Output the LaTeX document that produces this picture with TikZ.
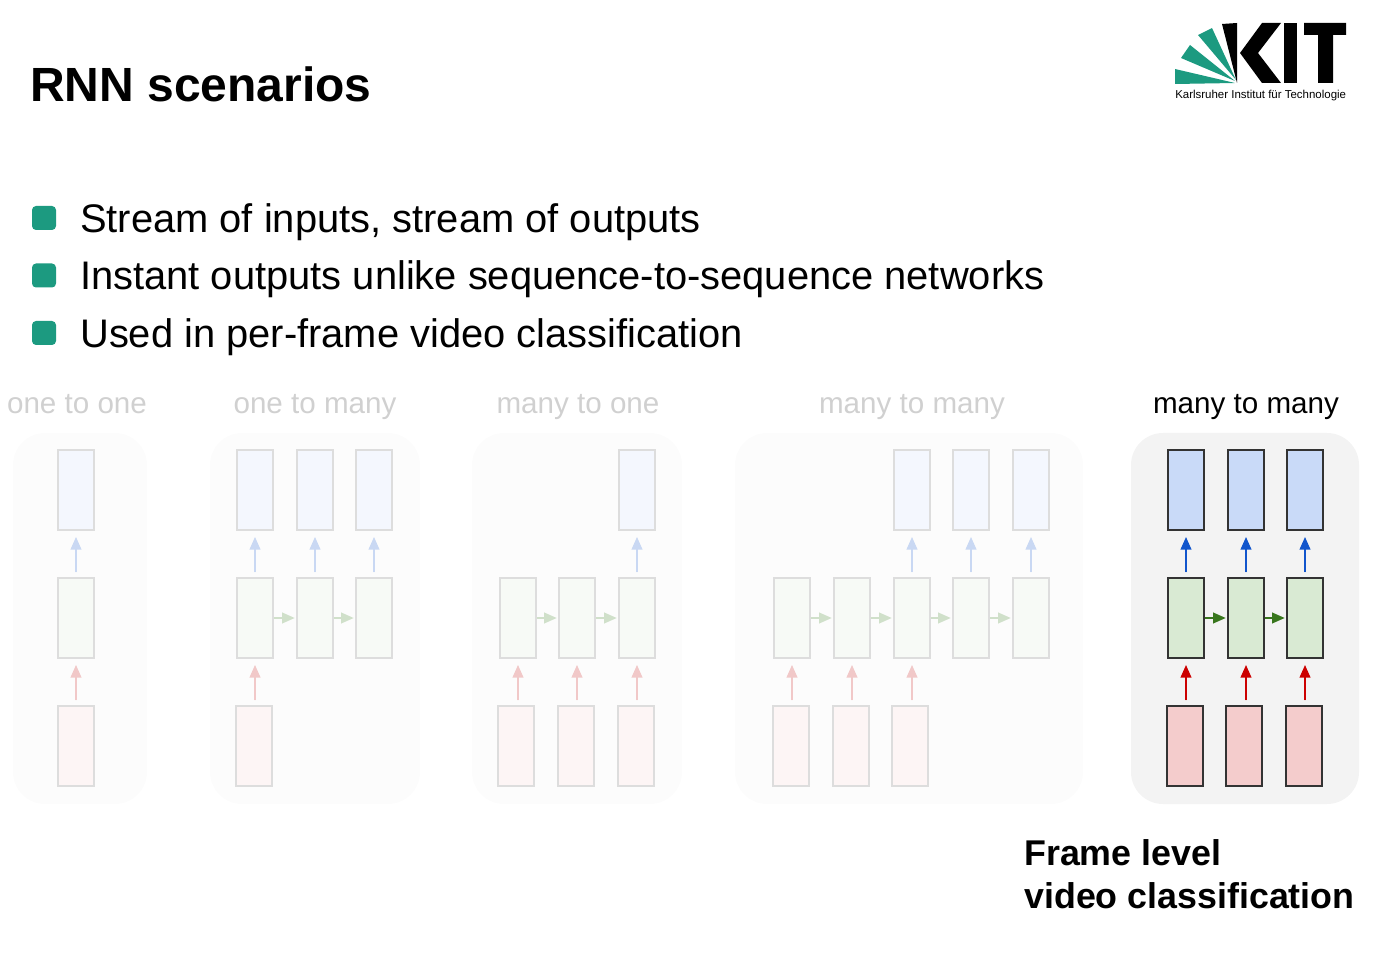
\documentclass[tikz,border=0pt]{standalone}
\usepackage{fontspec}
\setmainfont{Liberation Sans}
\usetikzlibrary{arrows.meta}
\definecolor{kitgreen}{HTML}{1C9A80}
\definecolor{deepbox}{HTML}{333333}
\definecolor{paleedge}{HTML}{DDDDDD}
\definecolor{paletext}{HTML}{D0D0D0}
\definecolor{palepanel}{HTML}{FCFCFC}
\definecolor{deeppanel}{HTML}{F3F3F3}
\definecolor{boxblue}{HTML}{C9DAF8}
\definecolor{boxgreen}{HTML}{D9EAD3}
\definecolor{boxred}{HTML}{F4CCCC}
\definecolor{tipblue}{HTML}{1155CC}
\definecolor{tipgreen}{HTML}{38761D}
\definecolor{tipred}{HTML}{CC0000}
\definecolor{paleblue}{HTML}{F4F7FE}
\definecolor{palegreen}{HTML}{F7FAF6}
\definecolor{palered}{HTML}{FDF5F5}
\definecolor{tippaleblue}{HTML}{C9D8F3}
\definecolor{tippalegreen}{HTML}{D0E0CA}
\definecolor{tippalered}{HTML}{F1C8C8}
\tikzset{
    >={Triangle[length=9.5pt,width=8pt]},
    panel/.style={rounded corners=24pt,fill=#1},
    cell/.style={rectangle,draw=#1,minimum width=27pt,minimum height=60pt,inner sep=0pt},
    caption/.style={anchor=base,inner sep=0pt,font=\fontsize{22.2}{26}\selectfont},
    bullettext/.style={anchor=base west,inner sep=0pt,font=\fontsize{29.9}{36}\selectfont},
    bulletbox/.style={rectangle,fill=kitgreen,rounded corners=3pt,minimum size=18pt,inner sep=0pt},
    pale/.style={cell=paleedge,line width=1.4pt},
    deep/.style={cell=deepbox,line width=1.4pt},
    palearrow/.style={->,line width=1.4pt,draw=#1,fill=#1,shorten <=3.5pt,shorten >=4.5pt},
    deeparrow/.style={->,line width=1.4pt,draw=#1,fill=#1,shorten <=3.5pt,shorten >=4.5pt},
    sidearrow/.style={shorten <=0pt,shorten >=1pt}
}

\begin{document}
\begin{tikzpicture}[x=0.75pt,y=-0.75pt]
    \useasboundingbox (0,0) rectangle (1382,962);

    % Heading and bullets
    \node[anchor=base west,inner sep=0pt,font=\bfseries\fontsize{36}{42}\selectfont] (heading) at (30,102) {RNN scenarios};
    \node[bulletbox] (b1) at (44,218) {};
    \node[bulletbox] (b2) at (44,275.5) {};
    \node[bulletbox] (b3) at (44,333) {};
    \node[bullettext] (line1) at (80,233) {Stream of inputs, stream of outputs};
    \node[bullettext] (line2) at (80,290) {Instant outputs unlike sequence-to-sequence networks};
    \node[bullettext] (line3) at (80,348) {Used in per-frame video classification};

    % Logo
    \fill[kitgreen] (1175,69) -- (1235,83) -- (1175,84) -- cycle;
    \fill[kitgreen] (1190,45) -- (1235,81) -- (1181,58) -- cycle;
    \fill[kitgreen] (1212,28) -- (1236,80) -- (1198,35) -- cycle;
    \fill[black] (1222,24) -- (1237,23) -- (1237,83) -- cycle;
    \fill[black] (1262,23) -- (1281,23) -- (1258,53) -- (1281,83) -- (1262,83) -- (1240,53) -- cycle;
    \fill[black] (1284,23) rectangle (1297,83);
    \fill[black] (1304,23) -- (1346,23) -- (1346,35) -- (1333,35) -- (1333,83) -- (1318,83) -- (1318,35) -- (1304,35) -- cycle;
    \node[anchor=base west,inner sep=0pt,font=\fontsize{8.6}{10}\selectfont] (kitname) at (1175,99) {Karlsruher Institut für Technologie};

    % Panels
    \fill[panel=palepanel] (13,433) rectangle (147,804);
    \fill[panel=palepanel] (210,433) rectangle (420,804);
    \fill[panel=palepanel] (472,433) rectangle (682,804);
    \fill[panel=palepanel] (735,433) rectangle (1083,804);
    \fill[panel=deeppanel] (1131,433) rectangle (1359,804);

    \node[caption,text=paletext] (cap1) at (77,414) {one to one};
    \node[caption,text=paletext] (cap2) at (315,414) {one to many};
    \node[caption,text=paletext] (cap3) at (578,414) {many to one};
    \node[caption,text=paletext] (cap4) at (912,414) {many to many};
    \node[caption] (cap5) at (1246,414) {many to many};

    % one to one
    \node[pale,fill=paleblue] (a-top) at (76,490) {};
    \node[pale,fill=palegreen] (a-mid) at (76,618) {};
    \node[pale,fill=palered] (a-low) at (76,746) {};
    \draw[palearrow=tippaleblue] (a-mid) -- (a-top);
    \draw[palearrow=tippalered] (a-low) -- (a-mid);

    % one to many
    \foreach \name/\x in {1/255,2/315,3/374} {
        \node[pale,fill=paleblue] (b-top\name) at (\x,490) {};
        \node[pale,fill=palegreen] (b-mid\name) at (\x,618) {};
        \draw[palearrow=tippaleblue] (b-mid\name) -- (b-top\name);
    }
    \node[pale,fill=palered] (b-low1) at (254,746) {};
    \draw[palearrow=tippalered] (b-mid1.south |- b-low1.north) -- (b-mid1.south);
    \draw[palearrow=tippalegreen,sidearrow] (b-mid1) -- (b-mid2);
    \draw[palearrow=tippalegreen,sidearrow] (b-mid2) -- (b-mid3);

    % many to one
    \node[pale,fill=paleblue] (c-top3) at (637,490) {};
    \foreach \name/\x/\xx in {1/518/516,2/577/576,3/637/636} {
        \node[pale,fill=palegreen] (c-mid\name) at (\x,618) {};
        \node[pale,fill=palered] (c-low\name) at (\xx,746) {};
        \draw[palearrow=tippalered] (c-mid\name.south |- c-low\name.north) -- (c-mid\name.south);
    }
    \draw[palearrow=tippaleblue] (c-mid3) -- (c-top3);
    \draw[palearrow=tippalegreen,sidearrow] (c-mid1) -- (c-mid2);
    \draw[palearrow=tippalegreen,sidearrow] (c-mid2) -- (c-mid3);

    % many to many, delayed
    \foreach \name/\x in {1/792,2/852,3/912,4/971,5/1031} {
        \node[pale,fill=palegreen] (d-mid\name) at (\x,618) {};
    }
    \foreach \name/\x in {3/912,4/971,5/1031} {
        \node[pale,fill=paleblue] (d-top\name) at (\x,490) {};
        \draw[palearrow=tippaleblue] (d-mid\name) -- (d-top\name);
    }
    \foreach \name/\x in {1/791,2/851,3/910} {
        \node[pale,fill=palered] (d-low\name) at (\x,746) {};
        \draw[palearrow=tippalered] (d-mid\name.south |- d-low\name.north) -- (d-mid\name.south);
    }
    \foreach \a/\b in {1/2,2/3,3/4,4/5} {
        \draw[palearrow=tippalegreen,sidearrow] (d-mid\a) -- (d-mid\b);
    }

    % many to many, frame level
    \foreach \name/\x/\xx in {1/1186/1185,2/1246/1244,3/1305/1304} {
        \node[deep,fill=boxblue] (e-top\name) at (\x,490) {};
        \node[deep,fill=boxgreen] (e-mid\name) at (\x,618) {};
        \node[deep,fill=boxred] (e-low\name) at (\xx,746) {};
        \draw[deeparrow=tipblue] (e-mid\name) -- (e-top\name);
        \draw[deeparrow=tipred] (e-mid\name.south |- e-low\name.north) -- (e-mid\name.south);
    }
    \draw[deeparrow=tipgreen,sidearrow] (e-mid1) -- (e-mid2);
    \draw[deeparrow=tipgreen,sidearrow] (e-mid2) -- (e-mid3);

    \node[anchor=base west,inner sep=0pt,font=\bfseries\fontsize{26.85}{32}\selectfont] (frame1) at (1024,865) {Frame level};
    \node[anchor=base west,inner sep=0pt,font=\bfseries\fontsize{26.85}{32}\selectfont] (frame2) at (1024,908) {video classification};
\end{tikzpicture}
\end{document}
